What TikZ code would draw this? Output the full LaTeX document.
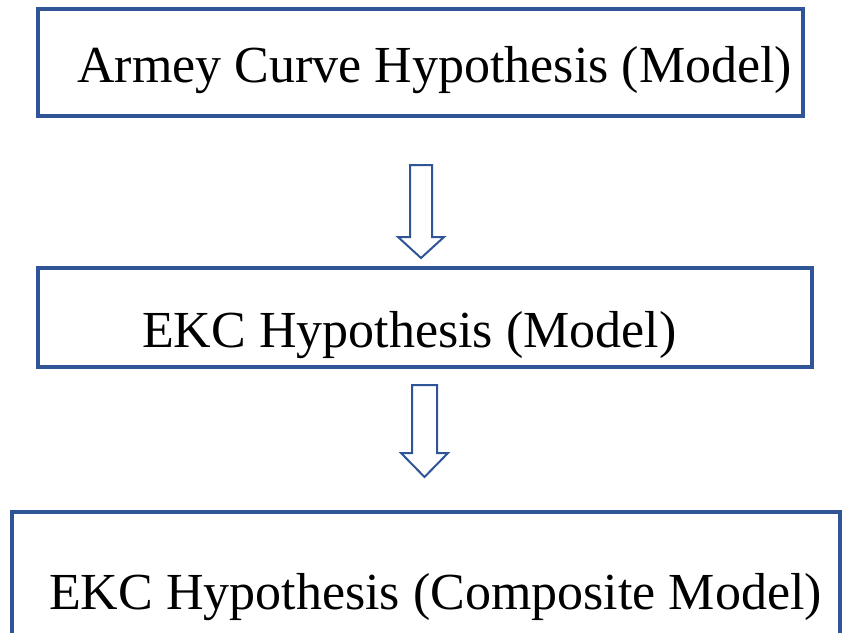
\documentclass[tikz,border=0pt]{standalone}
\usepackage{fontspec}
\setmainfont{Liberation Serif}
\usetikzlibrary{calc}
\definecolor{boxblue}{HTML}{2F5597}
\begin{document}
\begin{tikzpicture}[x=1pt,y=-1pt,
  box/.style={draw=boxblue, line width=3.2pt, rectangle, inner sep=0pt},
  label/.style={anchor=base west, inner sep=0pt, font=\fontsize{52}{60}\selectfont},
  blockarrow/.style={draw=boxblue, line width=2pt, fill=white, line join=miter}]
\clip (0,0) rectangle (843,632);
\fill[white] (0,0) rectangle (843,632);
% boxes
\node[box, minimum width=765pt, minimum height=107pt] (b1) at (420.5,62.5) {};
\node[box, minimum width=774pt, minimum height=99pt] (b2) at (425,317.5) {};
\node[box, minimum width=828pt, minimum height=150pt] (b3) at (426,587) {};
% texts
\node[label] (t1) at (77,82) {Armey Curve Hypothesis (Model)};
\node[label] (t2) at (142,347) {EKC Hypothesis (Model)};
\node[label] (t3) at (49,609) {EKC Hypothesis (Composite Model)};
% block arrows
\coordinate (a1top) at (421,165);
\coordinate (a1tip) at (421,258);
\draw[blockarrow] ($(a1top)+(-11,0)$) -- ($(a1top)+(11,0)$) -- (432,237) -- (444,237) -- (a1tip) -- (398,237) -- (410,237) -- cycle;
\coordinate (a2top) at (424.5,385);
\coordinate (a2tip) at (424.5,477);
\draw[blockarrow] ($(a2top)+(-12.5,0)$) -- ($(a2top)+(12.5,0)$) -- (437,453) -- (448,453) -- (a2tip) -- (401,453) -- (412,453) -- cycle;
\end{tikzpicture}
\end{document}
